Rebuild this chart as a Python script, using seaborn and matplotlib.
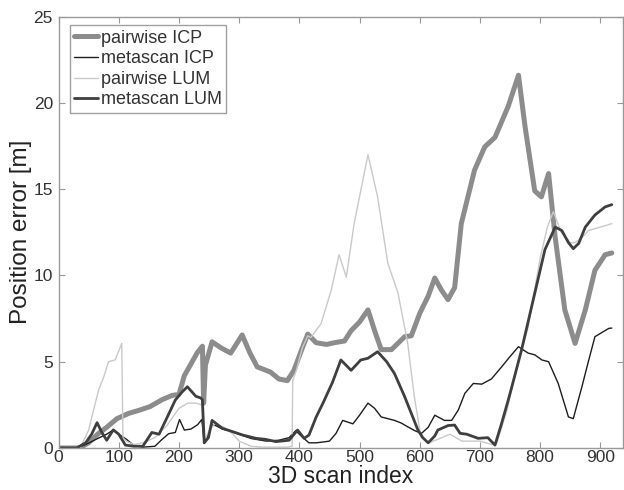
import numpy as np
import pandas as pd
import matplotlib
matplotlib.use("Agg")
import matplotlib.pyplot as plt
import seaborn as sns

# values (scan index -> position error in m)
pw_icp_x = [0, 35, 50, 65, 80, 97, 116, 135, 152, 172, 189, 200, 209, 214, 230, 239, 241, 244,
            255, 270, 286, 305, 318, 330, 352, 366, 380, 391, 405, 414, 428, 445, 458, 475, 486,
            500, 514, 525, 536, 553, 575, 586, 600, 614, 625, 636, 647, 658, 669, 691, 708, 725,
            747, 764, 775, 791, 802, 814, 825, 841, 858, 875, 891, 908, 919]
pw_icp_y = [0, 0, 0.3, 0.8, 1.2, 1.7, 2.0, 2.2, 2.4, 2.8, 3.05, 3.1, 4.2, 4.5, 5.5, 5.9, 2.6, 4.8,
            6.15, 5.8, 5.5, 6.55, 5.5, 4.7, 4.4, 4.0, 3.9, 4.5, 5.8, 6.6, 6.1, 6.0, 6.1, 6.2, 6.8,
            7.3, 8.0, 6.8, 5.7, 5.7, 6.45, 6.5, 7.8, 8.8, 9.85, 9.15, 8.6, 9.3, 13.0, 16.1, 17.45, 18.0,
            19.8, 21.6, 18.6, 14.9, 14.55, 15.9, 12.2, 8.0, 6.06, 8.0, 10.3, 11.2, 11.3]

ms_icp_x = [0, 30, 45, 65, 80, 91, 100, 113, 125, 140, 160, 172, 183, 194, 201, 209, 220, 231,
            238, 242, 246, 255, 261, 272, 283, 300, 320, 345, 366, 383, 394, 406, 416, 428, 440,
            450, 461, 472, 489, 500, 514, 525, 536, 547, 558, 569, 580, 592, 603, 614, 625, 641,
            653, 664, 675, 689, 703, 719, 736, 750, 764, 780, 791, 803, 814, 830, 847, 855, 869,
            880, 891, 903, 914, 919]
ms_icp_y = [0, 0, 0.2, 0.55, 0.8, 1.05, 0.8, 0.5, 0.15, 0.05, 0.1, 0.5, 0.83, 0.9, 1.65, 1.04, 1.1,
            1.35, 1.65, 0.3, 0.5, 1.33, 1.3, 1.1, 1.0, 0.8, 0.55, 0.4, 0.45, 0.6, 1.0, 0.6, 0.3, 0.3,
            0.35, 0.4, 0.85, 1.6, 1.4, 1.9, 2.6, 2.3, 1.8, 1.7, 1.6, 1.45, 1.23, 1.0, 0.85, 1.2, 1.9,
            1.6, 1.6, 2.2, 3.17, 3.74, 3.7, 4.0, 4.7, 5.3, 5.87, 5.5, 5.4, 5.1, 5.0, 3.74, 1.8, 1.7,
            3.5, 5.0, 6.45, 6.7, 6.93, 6.95]

pw_lum_x = [0, 36, 50, 61, 67, 75, 83, 94, 105, 107, 112, 125, 140, 160, 180, 200, 215, 228, 238,
            242, 250, 260, 275, 290, 300, 320, 340, 360, 380, 388, 389, 395, 405, 414, 419, 436,
            453, 466, 478, 491, 514, 530, 547, 564, 580, 591, 602, 615, 630, 650, 670, 700, 720,
            728, 745, 760, 780, 800, 812, 822, 835, 850, 858, 870, 880, 900, 919]
pw_lum_y = [0, 0, 1.04, 2.6, 3.4, 4.1, 5.0, 5.1, 6.06, 0.6, 0.4, 0.2, 0.3, 0.6, 1.3, 2.3, 2.6, 2.6,
            2.5, 0.4, 1.0, 1.4, 1.2, 0.8, 0.4, 0.1, 0.05, 0.05, 0.05, 0.1, 3.9, 4.5, 5.8, 6.5, 6.4,
            7.2, 9.15, 11.2, 9.9, 13.0, 17.0, 14.55, 10.7, 8.96, 6.06, 2.97, 0.65, 0.3, 0.5, 0.8,
            0.4, 0.4, 0.2, 0.3, 2.2, 4.5, 7.0, 11.0, 12.8, 13.7, 12.5, 11.9, 11.9, 12.2, 12.6, 12.8,
            13.0]

ms_lum_x = [0, 30, 45, 55, 64, 72, 80, 91, 100, 111, 125, 140, 155, 167, 178, 194, 204, 214, 228,
            236, 239, 242, 249, 255, 272, 289, 306, 328, 344, 361, 383, 397, 408, 416, 428, 439,
            455, 469, 486, 502, 514, 530, 545, 558, 575, 597, 605, 614, 625, 630, 647, 658, 667,
            678, 697, 713, 725, 736, 747, 753, 769, 791, 808, 825, 836, 847, 855, 864, 875, 891,
            908, 919]
ms_lum_y = [0, 0, 0.3, 0.8, 1.47, 0.9, 0.45, 1.05, 0.8, 0.17, 0.1, 0.1, 0.9, 0.8, 1.6, 2.78, 3.2,
            3.55, 3.0, 2.9, 2.8, 0.3, 0.6, 1.6, 1.14, 0.95, 0.75, 0.56, 0.5, 0.37, 0.45, 1.04, 0.56,
            0.75, 1.8, 2.58, 3.8, 5.1, 4.5, 5.1, 5.2, 5.58, 5.0, 4.32, 2.97, 1.04, 0.6, 0.3, 0.7,
            1.04, 1.3, 1.33, 0.85, 0.8, 0.56, 0.6, 0.17, 1.43, 2.78, 3.55, 5.67, 8.96, 11.5, 12.8,
            12.6, 11.9, 11.55, 11.85, 12.8, 13.5, 13.97, 14.1]

series = [
    ("pairwise ICP", pw_icp_x, pw_icp_y, "#8c8c8c", 3.6),
    ("metascan ICP", ms_icp_x, ms_icp_y, "#1e1e1e", 1.0),
    ("pairwise LUM", pw_lum_x, pw_lum_y, "#c9c9c9", 1.0),
    ("metascan LUM", ms_lum_x, ms_lum_y, "#3f3f3f", 2.0),
]

sns.set_theme(style="ticks")
plt.rcParams["font.family"] = ["Liberation Sans", "DejaVu Sans"]

fig = plt.figure(figsize=(6.24, 4.9), dpi=100)
ax = fig.add_axes([0.0938, 0.0857, 0.904, 0.8806])

for name, xs, ys, col, lw in series:
    df = pd.DataFrame({"scan": xs, "err": ys})
    sns.lineplot(data=df, x="scan", y="err", ax=ax, color=col, linewidth=lw,
                 label=name, estimator=None, sort=False)

ax.set_xlim(0, 937)
ax.set_ylim(0, 25)
ax.set_xticks(np.arange(0, 901, 100))
ax.set_yticks(np.arange(0, 26, 5))
ax.tick_params(direction="in", top=True, right=True, labelsize=12.5,
               colors="#333333", length=4, width=0.8)
ax.tick_params(axis="x", pad=1.5)
ax.tick_params(axis="y", pad=4)
ax.tick_params(axis="both", color="#999999")
for s in ax.spines.values():
    s.set_color("#999999")
    s.set_linewidth(1.0)

ax.set_xlabel("3D scan index", fontsize=16.5, color="#222222", labelpad=0)
ax.set_ylabel("Position error [m]", fontsize=17.5, color="#222222", labelpad=1)

leg = ax.legend(loc="upper left", bbox_to_anchor=(0.02, 0.98), borderaxespad=0,
                fontsize=13, frameon=True, fancybox=False, handlelength=1.3,
                handletextpad=0.15, labelspacing=0.2, borderpad=0.25)
leg.get_frame().set_edgecolor("#888888")
leg.get_frame().set_linewidth(1.0)
for t in leg.get_texts():
    t.set_color("#333333")

fig.savefig("out.png", dpi=100)
